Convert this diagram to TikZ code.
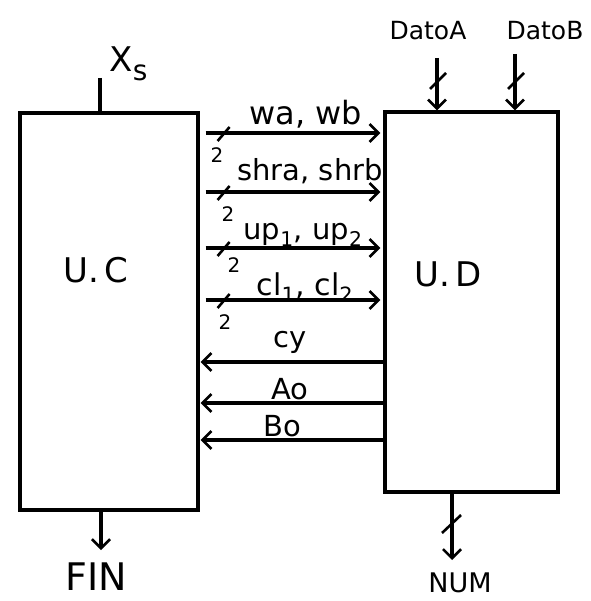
\documentclass[tikz,border=0pt]{standalone}
\usepackage{fontspec}
\setmainfont{DejaVu Sans}
\usetikzlibrary{arrows.meta}
\begin{document}
\begin{tikzpicture}[x=1pt,y=-1pt,
  line width=3.2pt,
  lbl/.style={font=\fontsize{29}{32}\selectfont, inner sep=0pt},
  dat/.style={font=\fontsize{25}{28}\selectfont, inner sep=0pt},
  big/.style={font=\fontsize{34}{38}\selectfont, inner sep=0pt},
  num/.style={font=\fontsize{20}{22}\selectfont, inner sep=0pt},
  sig/.style={-{Straight Barb[length=9pt,width=18pt,line width=2.6pt]}},
  tick/.style={line width=2.6pt}]
\useasboundingbox (0,0) rectangle (590,601);
% boxes
\node[draw,minimum width=178pt,minimum height=397pt,inner sep=0pt] (UC) at (109,311.5) {};
\node[draw,minimum width=173pt,minimum height=380pt,inner sep=0pt] (UD) at (471.5,302) {};
\node[big] (uclbl) at (96,270) {U.\,C};
\node[big] (udlbl) at (448,274) {U.\,D};
% Xs input
\coordinate (xs) at (100,78);
\draw (xs) -- (UC.north -| xs);
\node[big, anchor=base west] (xslbl) at (108,72) {X\raisebox{-9pt}{\fontsize{28}{30}\selectfont s}};
% right-going signals
\foreach \yy/\txt/\ty/\tx/\nx/\ny/\fs [count=\i] in
  {133/{wa, wb}/114/306/217/155/32,
   192/{shra, shrb}/171/310/228/214/29,
   248/{up\textsubscript{1}, up\textsubscript{2}}/235/303/234/265/29,
   300/{cl\textsubscript{1}, cl\textsubscript{2}}/288/305/225/322/30}{
  \coordinate (a\i) at (UC.east |- 0,\yy);
  \coordinate (b\i) at (UD.west |- 0,\yy);
  \draw[sig,shorten <=6pt,shorten >=3pt] (a\i) -- (b\i);
  \draw[tick] ([xshift=18pt,yshift=-8pt]a\i) -- ([xshift=30pt,yshift=6pt]a\i);
  \node[num] (n\i) at (\nx,\ny) {2};
  \node[lbl, font=\fontsize{\fs}{\fs}\selectfont] (t\i) at (\tx,\ty) {\txt};
}
% left-going signals
\foreach \yy/\txt/\tx/\ty [count=\i] in {362/cy/290/342, 403/Ao/290/389, 440/Bo/282/426}{
  \coordinate (c\i) at (UD.west |- 0,\yy);
  \coordinate (d\i) at (UC.east |- 0,\yy);
  \draw[sig,shorten >=1pt] (c\i) -- (d\i);
  \node[lbl] (s\i) at (\tx,\ty) {\txt};
}
% data inputs
\node[dat] (da) at (428,31) {DatoA};
\node[dat] (db) at (545,31) {DatoB};
\coordinate (ia) at (437,58);
\coordinate (ib) at (515,54);
\draw[sig] (ia) -- (UD.north -| ia);
\draw[sig] (ib) -- (UD.north -| ib);
\draw[tick] (430,89) -- (446,73);
\draw[tick] (508,89) -- (524,73);
% outputs
\coordinate (fo) at (101,550);
\draw[sig] (UC.south -| fo) -- (fo);
\node[big, font=\fontsize{38}{40}\selectfont] (fin) at (96,577) {FIN};
\coordinate (no) at (452,560);
\draw[sig] (UD.south -| no) -- (no);
\draw[tick] (442,533) -- (461,515);
\node[dat, font=\fontsize{27}{28}\selectfont] (num) at (460,583) {NUM};
\end{tikzpicture}
\end{document}
